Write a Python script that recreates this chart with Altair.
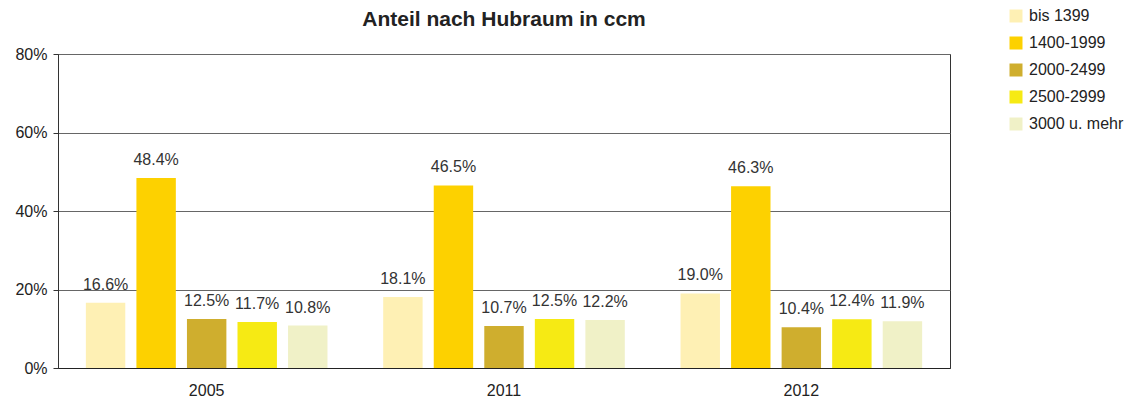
import altair as alt
import pandas as pd

years = ["2005", "2011", "2012"]
series = ["bis 1399", "1400-1999", "2000-2499", "2500-2999", "3000 u. mehr"]
values = {
    "2005": [0.166, 0.484, 0.125, 0.117, 0.108],
    "2011": [0.181, 0.465, 0.107, 0.125, 0.122],
    "2012": [0.190, 0.463, 0.104, 0.124, 0.119],
}
colors = ["#FEF0B4", "#FDD100", "#CFAE2E", "#F6EA14", "#F0F1C7"]
y_ticks = [0, 0.2, 0.4, 0.6, 0.8]

rows = []
for y in years:
    for i, s in enumerate(series):
        rows.append({"Jahr": y, "Hubraum": s, "Anteil": values[y][i], "order": i})
df = pd.DataFrame(rows)

FONT = "Liberation Sans"

x = alt.X("Jahr:N", sort=years, title=None,
          scale=alt.Scale(paddingInner=0.15, paddingOuter=0.075),
          axis=alt.Axis(labelAngle=0, ticks=False, labelPadding=14, labelFontSize=16,
                        labelColor="#222", domainColor="#222", labelFont=FONT))
xo = alt.XOffset("Hubraum:N", sort=series,
                 scale=alt.Scale(paddingInner=0.22, paddingOuter=0.11))

bars = alt.Chart(df).mark_bar().encode(
    x=x,
    xOffset=xo,
    y=alt.Y("Anteil:Q", title=None,
            scale=alt.Scale(domain=[0, 0.8]),
            axis=alt.Axis(values=y_ticks, format=".0%", labelFontSize=16, labelColor="#222",
                          labelFont=FONT, tickSize=5, tickColor="#333", domainColor="#333",
                          gridColor="#666", labelPadding=6)),
    color=alt.Color("Hubraum:N", sort=series,
                    scale=alt.Scale(domain=series, range=colors),
                    legend=alt.Legend(title=None, orient="none", legendX=950, legendY=-46,
                                      symbolType="square", symbolSize=169, symbolStrokeWidth=0,
                                      labelFontSize=16, labelColor="#222", labelFont=FONT,
                                      rowPadding=11, labelOffset=5, padding=0)),
)

labels = alt.Chart(df).mark_text(baseline="alphabetic", dy=-13, fontSize=16,
                                 color="#333", font=FONT).encode(
    x=x,
    xOffset=xo,
    y="Anteil:Q",
    text=alt.Text("Anteil:Q", format=".1%"),
)

chart = (bars + labels).properties(
    width=892, height=314,
    title=alt.TitleParams("Anteil nach Hubraum in ccm", fontSize=21, font=FONT,
                          fontWeight="bold", color="#222", offset=0, dy=22, anchor="middle"),
    autosize=alt.AutoSizeParams(type="none"),
    padding={"left": 50, "top": 46, "right": 183, "bottom": 29},
).configure_view(stroke="#333", strokeWidth=1)

chart.save("out.html", embed_options={"renderer": "svg", "actions": False})
